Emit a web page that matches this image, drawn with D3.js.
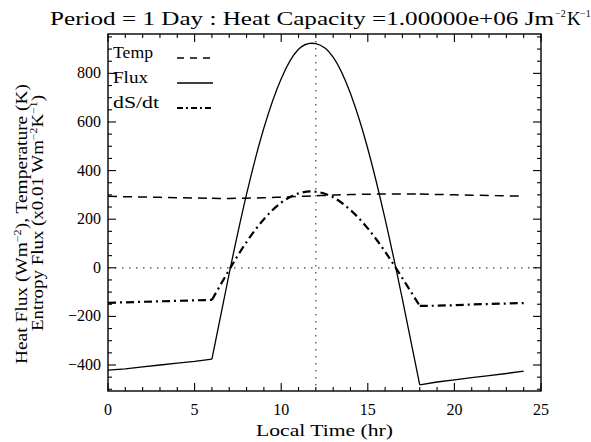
<!DOCTYPE html>
<html lang="en">
<head>
  <meta charset="UTF-8">
  <title>Heat flux, temperature and entropy flux</title>
  <script src="https://d3js.org/d3.v7.min.js"></script>
  <style>
    body { margin: 0; background: #fff; }
    svg { display: block; }
    svg text { font-family: "Liberation Serif", "DejaVu Serif", serif; fill: #000; }
  </style>
</head>
<body>
  <div id="chart"></div>

  <script>
    // values, one per hour
    const hours = [0, 1, 2, 3, 4, 5, 6, 7, 8, 9, 10, 11, 12,
                   13, 14, 15, 16, 17, 18, 19, 20, 21, 22, 23, 24];
    const temp = [294, 292.6, 291.2, 289.8, 288.4, 287, 285.8, 285.5, 286.3, 288.2, 290.8, 293.6, 296.4,
                  299, 301.2, 302.8, 303.8, 304, 303.3, 301.8, 300.3, 298.8, 297.4, 296, 294.6];
    const flux = [-421, -416, -408, -400, -392, -385, -376, -23, 303, 575, 778, 899, 922,
                  867, 717, 490, 200, -130, -482, -470, -461, -452, -444, -435, -425];
    const dsdt = [-144, -142, -140, -138, -136, -134, -132, -8, 106, 200, 268, 306, 313,
                  290, 238, 162, 66, -43, -157, -156, -154, -151, -149, -147, -145];

    const xTicks = [0, 5, 10, 15, 20, 25];
    const yTicks = [-400, -200, 0, 200, 400, 600, 800];
    const legendNames = ["Temp", "Flux", "dS/dt"];

    const width = 591, height = 442;
    const padL = 108, padR = 541, padT = 34, padB = 391;

    const svg = d3.select("#chart").append("svg")
      .attr("width", width)
      .attr("height", height);

    const x = d3.scaleLinear().domain([0, 25]).range([padL, padR]);
    const y = d3.scaleLinear().domain([-507, 962]).range([padB, padT]);

    // dotted reference lines
    svg.append("line")
      .attr("x1", x(0)).attr("x2", x(25)).attr("y1", y(0)).attr("y2", y(0))
      .attr("stroke", "#444").attr("stroke-width", 1.2).attr("stroke-dasharray", "1.5,5.5");
    svg.append("line")
      .attr("x1", x(12)).attr("x2", x(12)).attr("y1", y(962)).attr("y2", y(-507))
      .attr("stroke", "#444").attr("stroke-width", 1.2).attr("stroke-dasharray", "1.5,5.5");

    // ticks, pointing inward on all four sides
    const xMinor = d3.range(0, 26, 1);
    const yMinor = d3.range(-500, 961, 50);
    const tickG = svg.append("g").attr("stroke", "#000").attr("stroke-width", 1.1);
    xMinor.forEach(v => {
      const len = v % 5 === 0 ? 8 : 4;
      tickG.append("line").attr("x1", x(v)).attr("x2", x(v)).attr("y1", padB).attr("y2", padB - len);
      tickG.append("line").attr("x1", x(v)).attr("x2", x(v)).attr("y1", padT).attr("y2", padT + len);
    });
    yMinor.forEach(v => {
      const len = v % 200 === 0 ? 8 : 4;
      tickG.append("line").attr("x1", padL).attr("x2", padL + len).attr("y1", y(v)).attr("y2", y(v));
      tickG.append("line").attr("x1", padR).attr("x2", padR - len).attr("y1", y(v)).attr("y2", y(v));
    });

    svg.append("rect")
      .attr("x", padL).attr("y", padT)
      .attr("width", padR - padL).attr("height", padB - padT)
      .attr("fill", "none").attr("stroke", "#000").attr("stroke-width", 1.4);

    // tick labels
    svg.selectAll(".xl").data(xTicks).enter().append("text")
      .attr("x", d => x(d)).attr("y", 415)
      .attr("text-anchor", "middle").attr("font-size", 16)
      .text(d => d);
    svg.selectAll(".yl").data(yTicks).enter().append("text")
      .attr("x", padL - 7).attr("y", d => y(d) + 5)
      .attr("text-anchor", "end").attr("font-size", 16)
      .text(d => d < 0 ? "\u2212" + (-d) : d);

    // series: night parts straight, daytime part smooth
    const pts = vals => hours.map((h, i) => [h, vals[i]]);
    const straight = d3.line().x(d => x(d[0])).y(d => y(d[1]));
    const smooth = d3.line().x(d => x(d[0])).y(d => y(d[1])).curve(d3.curveNatural);

    function drawSeries(vals, dash, sw) {
      const p = pts(vals);
      const parts = [
        [p.filter(d => d[0] <= 6), straight],
        [p.filter(d => d[0] >= 6 && d[0] <= 18), smooth],
        [p.filter(d => d[0] >= 18), straight]
      ];
      parts.forEach(([data, gen]) => {
        svg.append("path")
          .attr("d", gen(data))
          .attr("fill", "none")
          .attr("stroke", "#000")
          .attr("stroke-width", sw)
          .attr("stroke-dasharray", dash);
      });
    }

    drawSeries(temp, "9,6", 1.5);
    drawSeries(flux, null, 1.3);
    drawSeries(dsdt, "8,4,2,4", 2.2);

    // legend
    const legendDash = ["7,6", null, "6,3,2,3"];
    const legendWidth = [1.5, 1.3, 2.2];
    legendNames.forEach((name, i) => {
      const ly = 58 + i * 25;
      svg.append("text").attr("x", 113).attr("y", ly)
        .attr("font-size", 16).attr("textLength", [40, 35, 46][i])
        .attr("lengthAdjust", "spacingAndGlyphs").text(name);
      svg.append("line")
        .attr("x1", 177).attr("x2", 213).attr("y1", ly).attr("y2", ly)
        .attr("stroke", "#000").attr("stroke-width", legendWidth[i])
        .attr("stroke-dasharray", legendDash[i]);
    });

    // title, built from pieces so the superscripts sit right
    const sup = (tx, ty, s) => svg.append("text").attr("x", tx).attr("y", ty).attr("font-size", 10).text(s);
    svg.append("text").attr("x", 50).attr("y", 25).attr("font-size", 19)
      .attr("textLength", 504).attr("lengthAdjust", "spacingAndGlyphs")
      .text("Period = 1 Day : Heat Capacity =1.00000e+06 Jm");
    sup(555, 17, "\u22122");
    svg.append("text").attr("x", 567).attr("y", 25).attr("font-size", 19).text("K");
    sup(580, 17, "\u22121");

    // axis titles
    svg.append("text").attr("x", (padL + padR) / 2).attr("y", 436)
      .attr("text-anchor", "middle").attr("font-size", 17)
      .attr("textLength", 137).attr("lengthAdjust", "spacingAndGlyphs")
      .text("Local Time (hr)");

    const yt1 = svg.append("text")
      .attr("transform", "translate(27,224) rotate(-90)")
      .attr("text-anchor", "middle").attr("font-size", 16)
      .attr("textLength", 280).attr("lengthAdjust", "spacingAndGlyphs");
    yt1.append("tspan").text("Heat Flux (Wm");
    yt1.append("tspan").attr("dy", -6).attr("font-size", 10).text("\u22122");
    yt1.append("tspan").attr("dy", 6).text("), Temperature (K)");

    const yt2 = svg.append("text")
      .attr("transform", "translate(43,213) rotate(-90)")
      .attr("text-anchor", "middle").attr("font-size", 16)
      .attr("textLength", 236).attr("lengthAdjust", "spacingAndGlyphs");
    yt2.append("tspan").text("Entropy Flux (x0.01 Wm");
    yt2.append("tspan").attr("dy", -6).attr("font-size", 10).text("\u22122");
    yt2.append("tspan").attr("dy", 6).text("K");
    yt2.append("tspan").attr("dy", -6).attr("font-size", 10).text("\u22121");
    yt2.append("tspan").attr("dy", 6).text(")");
  </script>
</body>
</html>
